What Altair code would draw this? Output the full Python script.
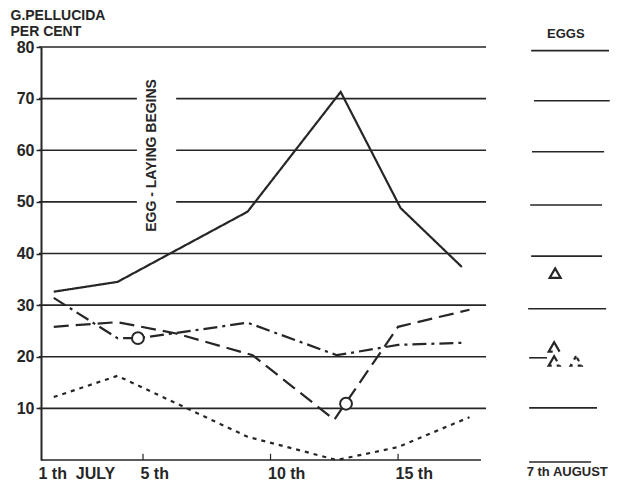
import altair as alt
import pandas as pd

# ---- data ----
series_names = ["solid", "dashed", "dashdot", "dotted"]

solid_days = [1.5, 4.0, 9.1, 12.75, 15.1, 17.5]
solid_vals = [32.6, 34.5, 48.1, 71.3, 48.8, 37.4]

dashed_days = [1.5, 4.0, 6.3, 9.3, 12.5, 15.0, 17.8]
dashed_vals = [25.8, 26.7, 24.5, 20.3, 7.8, 25.8, 29.1]

dashdot_days = [1.5, 4.0, 4.8, 6.3, 9.1, 12.6, 15.0, 17.5]
dashdot_vals = [31.4, 23.6, 23.6, 24.6, 26.6, 20.3, 22.3, 22.7]

dotted_days = [1.5, 4.0, 9.1, 12.6, 15.0, 17.8]
dotted_vals = [12.2, 16.3, 4.5, 0.0, 2.5, 8.3]

circle_days = [4.8, 12.96]
circle_vals = [23.6, 10.9]

egg_series = ["solid", "dashed", "dashdot", "dotted"]
egg_days = [21.16, 21.12, 21.12, 21.98]
egg_vals = [36.2, 21.9, 19.2, 19.2]

# main panel gridline segments (level, start day, end day)
grid_levels = [80, 70, 70, 60, 60, 50, 50, 40, 30, 20, 10, 0]
grid_start = [0.92, 0.92, 6.3, 0.92, 6.3, 0.92, 6.3, 0.92, 0.92, 0.92, 0.92, 1.0]
grid_end = [18.45, 4.76, 18.45, 4.76, 18.45, 4.76, 18.45, 18.45, 18.45, 18.45, 18.45, 18.25]

# eggs panel lines
egg_grid_levels = [79.3, 69.6, 59.7, 49.4, 39.5, 29.3, 19.8, 10.1, -0.4]
egg_grid_start = [20.22, 20.33, 20.25, 20.18, 20.22, 20.1, 20.14, 20.14, 20.14]
egg_grid_end = [23.27, 23.3, 23.08, 23.0, 23.0, 23.16, 20.84, 22.8, 22.57]

tick_days = [5, 10, 15]
y_labels = [10, 20, 30, 40, 50, 60, 70, 80]
x_label_values = [1, 5, 10, 15, 20.14]
x_label_texts = ["1 th\u00a0\u00a0JULY", "5 th", "10 th", "15 th", "7 th AUGUST"]

note_text = ["EGG - LAYING BEGINS"]
note_day = [5.35]
note_val = [59]

eggs_text = ["EGGS"]
eggs_day = [20.84]
eggs_val = [81.8]

# ---- build tables ----
rows = []
for name, ds, vs in [("solid", solid_days, solid_vals), ("dashed", dashed_days, dashed_vals),
                     ("dashdot", dashdot_days, dashdot_vals), ("dotted", dotted_days, dotted_vals)]:
    for i, (d, v) in enumerate(zip(ds, vs)):
        rows.append({"series": name, "day": d, "val": v, "idx": i})
lines_df = pd.DataFrame(rows)

circles_df = pd.DataFrame({"day": circle_days, "val": circle_vals})
eggs_df = pd.DataFrame({"series": egg_series, "day": egg_days, "val": egg_vals})
grid_df = pd.DataFrame({"val": grid_levels, "day": grid_start, "day2": grid_end})
egg_grid_df = pd.DataFrame({"val": egg_grid_levels, "day": egg_grid_start, "day2": egg_grid_end})
ticks_df = pd.DataFrame({"day": tick_days, "val": [0] * len(tick_days), "val2": [1.2] * len(tick_days)})
note_df = pd.DataFrame({"day": note_day, "val": note_val, "t": note_text})
eggs_label_df = pd.DataFrame({"day": eggs_day, "val": eggs_val, "t": eggs_text})

INK = "#262626"
FONT = "Liberation Sans"

label_expr = " : ".join(
    f"datum.value < {v + 0.5} ? '{t}'" for v, t in zip(x_label_values[:-1], x_label_texts[:-1])
) + f" : '{x_label_texts[-1]}'"

x_scale = alt.Scale(domain=[1, 23.31], nice=False, zero=False)
y_scale = alt.Scale(domain=[0, 80], nice=False, zero=False)

x_axis = alt.Axis(values=x_label_values, labelExpr=label_expr, domain=False, ticks=False,
                  grid=False, labelAlign="left", labelOffset=-3, labelPadding=5,
                  labelFlush=False, labelOverlap=False, labelFont=FONT,
                  labelFontSize={"condition": {"test": "datum.value > 19", "value": 13}, "value": 16},
                  labelFontWeight="bold", labelColor=INK, title=None)
y_axis = alt.Axis(values=y_labels, grid=False, domain=True, domainColor=INK, domainWidth=2,
                  ticks=True, tickSize=5, tickColor=INK, tickWidth=1.5, labelPadding=2,
                  labelFont=FONT, labelFontSize=16, labelFontWeight="bold", labelColor=INK,
                  title=["G.PELLUCIDA", "PER CENT"], titleAngle=0, titleAlign="left",
                  titleBaseline="top", titleX=-31, titleY=-39, titleFont=FONT,
                  titleFontSize=14, titleFontWeight="bold", titleColor=INK, titleLineHeight=16)

X = lambda f="day": alt.X(f"{f}:Q", scale=x_scale, axis=x_axis)
Y = lambda f="val": alt.Y(f"{f}:Q", scale=y_scale, axis=y_axis)

dash_scale = alt.Scale(domain=series_names, range=[[1, 0], [15, 7], [14, 5, 3, 5], [4, 5]])

grid = alt.Chart(grid_df).mark_rule(color=INK, strokeWidth=1.6).encode(
    x=X(), x2="day2:Q", y=Y())
egg_grid = alt.Chart(egg_grid_df).mark_rule(color=INK, strokeWidth=1.6).encode(
    x=X(), x2="day2:Q", y=Y())
ticks = alt.Chart(ticks_df).mark_rule(color=INK, strokeWidth=1.2).encode(
    x=X(), y=Y(), y2="val2:Q")

lines = alt.Chart(lines_df).mark_line(color=INK, strokeWidth=2.2).encode(
    x=X(), y=Y(),
    detail="series:N",
    order="idx:Q",
    strokeDash=alt.StrokeDash("series:N", scale=dash_scale, legend=None),
)

circles = alt.Chart(circles_df).mark_point(shape="circle", size=140, filled=False, fill="white",
                                           fillOpacity=1, color=INK, strokeWidth=2).encode(
    x=X(), y=Y())

eggs = alt.Chart(eggs_df).mark_point(shape="triangle-up", size=120, filled=False, color=INK,
                                     strokeWidth=2.2, opacity=1).encode(
    x=X(), y=Y(),
    strokeDash=alt.StrokeDash("series:N", scale=alt.Scale(domain=series_names,
                              range=[[1, 0], [4, 2], [4, 1.5, 1.5, 1.5], [2, 1.5]]), legend=None),
)

note = alt.Chart(note_df).mark_text(angle=270, align="center", baseline="middle", font=FONT,
                                    fontSize=14, fontWeight="bold", color=INK).encode(
    x=X(), y=Y(), text="t:N")

eggs_label = alt.Chart(eggs_label_df).mark_text(align="left", baseline="alphabetic", font=FONT,
                                                fontSize=13, fontWeight="bold", color=INK).encode(
    x=X(), y=Y(), text="t:N")

chart = alt.layer(grid, egg_grid, ticks, lines, circles, eggs, note, eggs_label).properties(
    width=569, height=413,
    padding={"left": 33, "top": 39, "right": 0, "bottom": 24},
    autosize=alt.AutoSizeParams(type="none"),
    background="white",
).configure_view(stroke=None)

chart.save("out.html", embed_options={"renderer": "svg", "actions": False})
